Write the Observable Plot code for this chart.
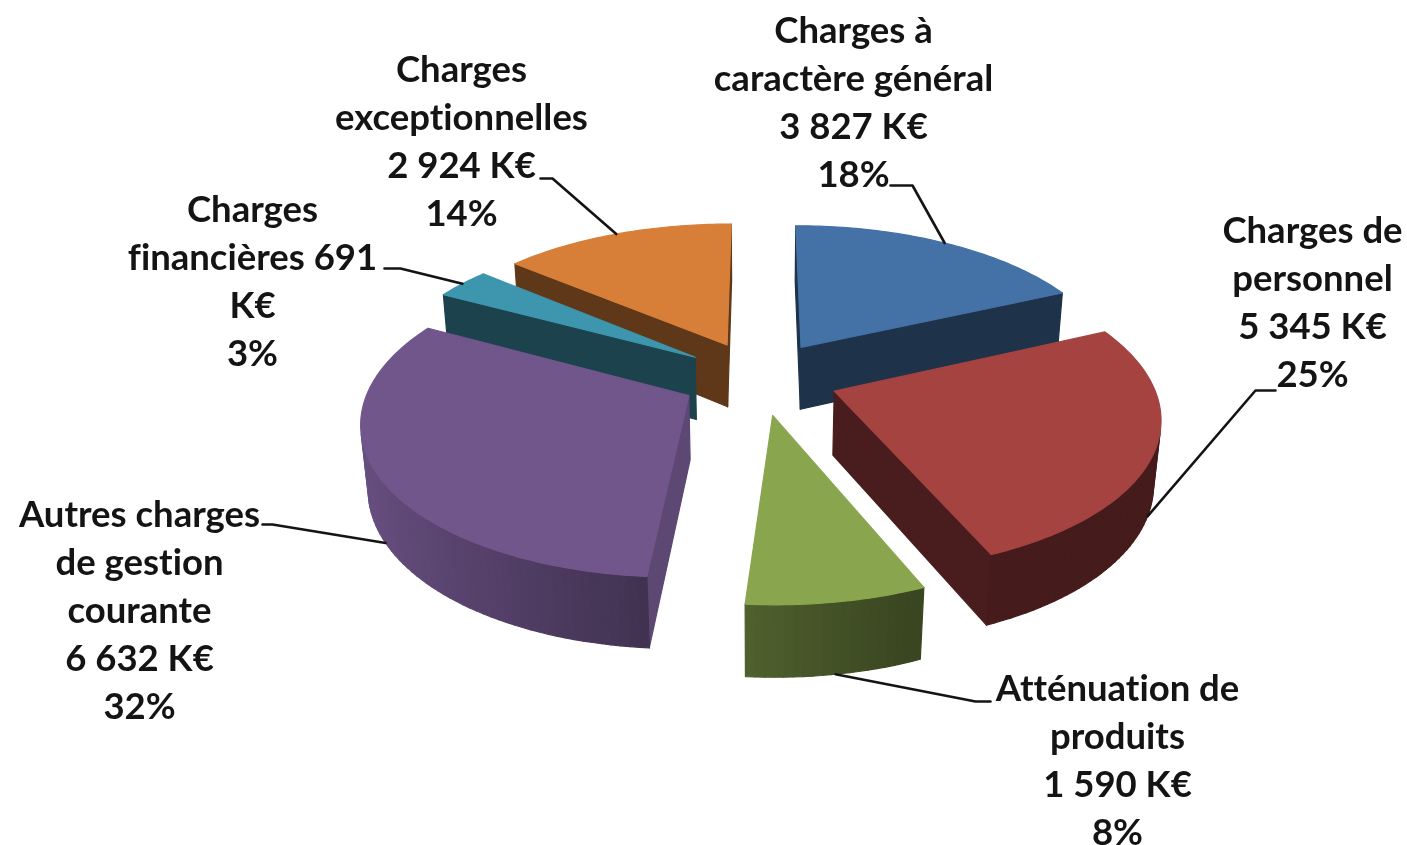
<!DOCTYPE html>
<html lang="fr">
<head>
<meta charset="utf-8">
<title>Charges</title>
<style>
html,body{margin:0;padding:0;background:#fff;overflow:hidden;width:1407px;height:845px}
svg{display:block;filter:blur(0.7px)}
svg text{font-variant-ligatures:none}
</style>
<script src="https://cdn.jsdelivr.net/npm/d3@7"></script>
<script src="https://cdn.jsdelivr.net/npm/@observablehq/plot@0.6"></script>
</head>
<body>
<script>
// Data
const categories = ["Charges à caractère général","Charges de personnel","Atténuation de produits","Autres charges de gestion courante","Charges financières","Charges exceptionnelles"];
const values = [3827,5345,1590,6632,691,2924];
const labels = [
  "Charges à\ncaractère général\n3 827 K€\n18%",
  "Charges de\npersonnel\n5 345 K€\n25%",
  "Atténuation de\nproduits\n1 590 K€\n8%",
  "Autres charges\nde gestion\ncourante\n6 632 K€\n32%",
  "Charges\nfinancières 691\nK€\n3%",
  "Charges\nexceptionnelles\n2 924 K€\n14%"
];
const colors = ["#4471a6","#a54341","#89a64e","#71568c","#3e96ae","#d77f38"];

// Label placement in chart units (centre of the first line)
const labelX = [853,1312,1117,139,252,461];
const labelY = [30,230,688,514,209,69];
const elbowX = [[912,890],[1255,1275],[975,990],[272,262],[400,384],[552,540]];
const elbowY = [[185,185],[390,390],[701,701],[524,524],[268,268],[178,178]];

// Camera for the exploded 3D pie
const cam = {cx:759, cy:377, F:1865, D:5.89, s:0.468, c:0.884, h:0.23, explode:0.25};
const paintOrder = [5,0,4,1,3,2];

const project = (X, Y, Z) => {
  const depth = cam.D - Y*cam.c - Z*cam.s;
  return [cam.cx + cam.F*X/depth, cam.cy + cam.F*(Y*cam.s - Z*cam.c)/depth];
};
const total = d3.sum(values);
let acc = 0;
const slices = values.map((v,i) => {
  const a0 = acc/total*2*Math.PI; acc += v; const a1 = acc/total*2*Math.PI;
  const mid = (a0+a1)/2;
  return {i, a0, a1, mid, ox: cam.explode*Math.sin(mid), oy: -cam.explode*Math.cos(mid)};
});
const rim = (sl, a, Z) => project(sl.ox+Math.sin(a), sl.oy-Math.cos(a), Z);
const apex = (sl, Z) => project(sl.ox, sl.oy, Z);
const area = pts => d3.polygonArea(pts);
const shade = (hex, f) => { const c = d3.rgb(hex); return d3.rgb(c.r*f, c.g*f, c.b*f).formatHex(); };

const rows = [];
let pid = 0;
const addPoly = (pts, fill) => { const id = pid++; pts.forEach(p => rows.push({id, x:p[0], y:p[1], fill})); };

for (const idx of paintOrder) {
  const sl = slices[idx], base = colors[idx], bot = -cam.h;
  // flat cut faces, drawn only when they face the camera
  const fStart = [apex(sl,0), rim(sl,sl.a0,0), rim(sl,sl.a0,bot), apex(sl,bot)];
  const fEnd   = [apex(sl,0), rim(sl,sl.a1,0), rim(sl,sl.a1,bot), apex(sl,bot)];
  if (area(fStart) > 0) addPoly(fStart, shade(base, Math.sin(sl.a0-Math.PI/2) > 0.5 ? 0.82 : 0.44));
  if (area(fEnd) < 0) addPoly(fEnd, shade(base, 0.44));
  // curved rim, shaded by orientation
  const step = 1.5*Math.PI/180, n = Math.ceil((sl.a1-sl.a0)/step);
  for (let k=0;k<n;k++) {
    const a = sl.a0+(sl.a1-sl.a0)*k/n, b = sl.a0+(sl.a1-sl.a0)*(k+1)/n;
    const q = [rim(sl,a,0), rim(sl,b,0), rim(sl,b,bot), rim(sl,a,bot)];
    if (area(q) > 0) {
      const f = Math.min(0.95, Math.max(0.42, 0.55-0.38*Math.sin((a+b)/2)));
      addPoly(q, shade(base, f));
    }
  }
  // top face
  const top = [apex(sl,0)];
  const m = Math.ceil((sl.a1-sl.a0)/(Math.PI/180));
  for (let k=0;k<=m;k++) top.push(rim(sl, sl.a0+(sl.a1-sl.a0)*k/m, 0));
  addPoly(top, base);
}

// leader lines begin on the rim at each slice's bisector
const leaders = [];
slices.forEach((sl,i) => {
  const front = sl.oy - Math.cos(sl.mid) > 0;
  const p = rim(sl, sl.mid, front ? -cam.h : 0);
  leaders.push({id:i, x:p[0], y:p[1]});
  elbowX[i].forEach((ex,k) => leaders.push({id:i, x:ex, y:elbowY[i][k]}));
});

const labelRows = labels.map((text,i) => ({text, x:labelX[i], y:labelY[i], name:categories[i]}));

const chart = Plot.plot({
  width:1407, height:845,
  marginTop:0, marginRight:0, marginBottom:0, marginLeft:0,
  x:{domain:[0,1407], range:[0,1407], axis:null},
  y:{domain:[0,845], range:[0,845], axis:null},
  color:{type:"identity"},
  style:{background:"#fff", overflow:"hidden"},
  marks:[
    Plot.line(rows, {x:"x", y:"y", z:"id", fill:"fill", stroke:"fill", strokeWidth:1.2, curve:"linear-closed"}),
    Plot.line(leaders, {x:"x", y:"y", z:"id", stroke:"#141414", strokeWidth:2.6, curve:"linear"}),
    Plot.text(labelRows, {x:"x", y:"y", text:"text", fontSize:36.5, fontWeight:700, fontFamily:"Lato", fill:"#141414", lineHeight:48/36.5, lineAnchor:"top", textAnchor:"middle", dy:-22})
  ]
});
document.body.appendChild(chart);
</script>
</body>
</html>
